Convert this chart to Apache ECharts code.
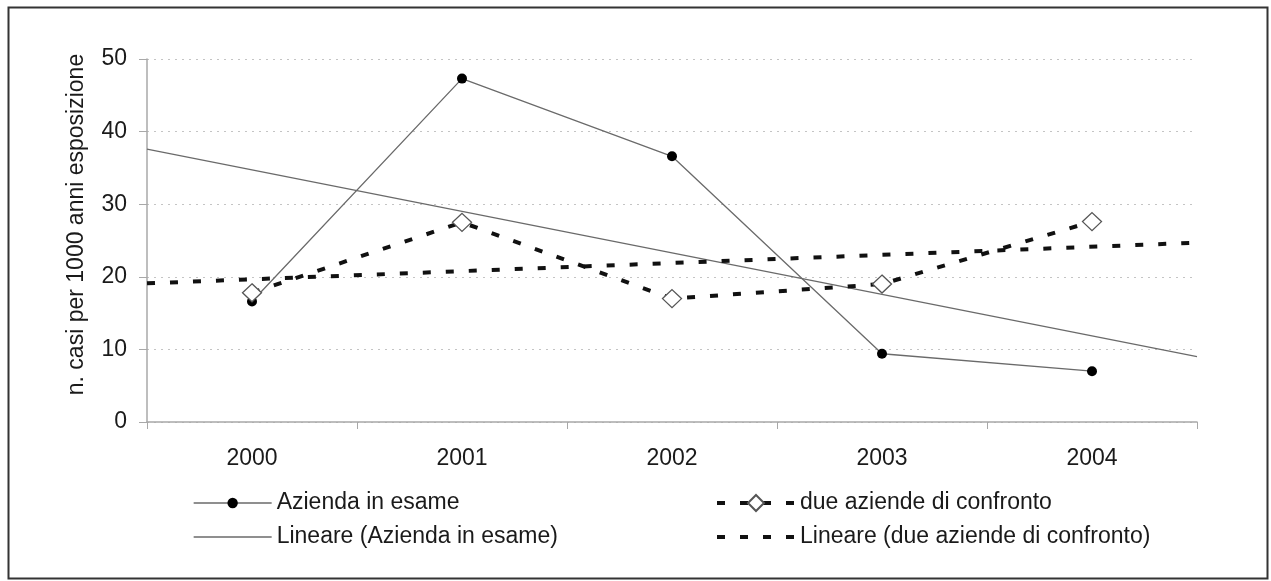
<!DOCTYPE html>
<html>
<head>
<meta charset="utf-8">
<script src="https://cdn.jsdelivr.net/npm/echarts@6/dist/echarts.min.js"></script>
<style>
  html, body { margin: 0; padding: 0; background: #fff; }
  #chart { width: 1271px; height: 581px; }
</style>
</head>
<body>
<div id="chart"></div>
<script>
// ---- data ----
const years = ['2000', '2001', '2002', '2003', '2004'];
const aziendaInEsame = [16.6, 47.3, 36.6, 9.4, 7.0];
const dueAziende = [17.8, 27.5, 17.0, 19.0, 27.6];
// trend lines (read at the left and right edges of the plot)
const trendX = [0.5, 5.5];
const trendAzienda = [37.6, 9.0];
const trendDue = [19.1, 24.7];
const yTicks = [0, 10, 20, 30, 40, 50];

const names = {
  az: 'Azienda in esame',
  due: 'due aziende di confronto',
  linAz: 'Lineare (Azienda in esame)',
  linDue: 'Lineare (due aziende di confronto)'
};
const yTitle = 'n. casi per 1000 anni esposizione';

const FONT = 'Liberation Sans, Arial, sans-serif';
const FS = 23;
const TXT = '#1a1a1a';
const LINEGRAY = '#6a6a6a';
const DASH = [8, 15];

const chart = echarts.init(document.getElementById('chart'));

function legendAt(name, left, centerY, itemHeight, lineWidth, hideSymbol) {
  const l = {
    data: [name],
    left: left,
    top: centerY - 13,
    padding: 0,
    itemWidth: 78,
    itemHeight: itemHeight,
    selectedMode: false,
    lineStyle: { width: lineWidth },
    textStyle: { fontFamily: FONT, fontSize: FS, color: TXT, lineHeight: 26 }
  };
  if (hideSymbol) l.itemStyle = { opacity: 0 };
  return l;
}

chart.setOption({
  animation: false,
  backgroundColor: '#fff',
  graphic: [{
    type: 'rect',
    left: 6, top: 5,
    shape: { width: 1259, height: 571 },
    style: { fill: 'none', stroke: '#333', lineWidth: 2 },
    silent: true
  }],
  grid: { left: 147, right: 74, top: 59, bottom: 159 },
  legend: [
    legendAt(names.az, 193, 503, 13, 1.3, false),
    legendAt(names.linAz, 193, 537, 13, 1.3, true),
    legendAt(names.due, 715, 503, 20, 4, false),
    legendAt(names.linDue, 715, 537, 13, 4, true)
  ],
  xAxis: [{
    type: 'category',
    data: years,
    boundaryGap: true,
    axisLine: { lineStyle: { color: '#a8a8a8', width: 1.5 } },
    axisTick: { show: true, length: 7, inside: false, lineStyle: { color: '#a8a8a8' } },
    axisLabel: { fontFamily: FONT, fontSize: FS, color: TXT, margin: 25 },
    splitLine: { show: false }
  }, {
    type: 'value',
    min: trendX[0], max: trendX[1],
    show: false
  }],
  yAxis: {
    type: 'value',
    min: yTicks[0], max: yTicks[yTicks.length - 1], interval: 10,
    name: yTitle,
    nameLocation: 'middle',
    nameGap: 59,
    nameTextStyle: { fontFamily: FONT, fontSize: FS, color: TXT, padding: [0, 0, 0, 32] },
    axisLine: { show: true, lineStyle: { color: '#a8a8a8', width: 1.5 } },
    axisTick: { show: true, length: 8, lineStyle: { color: '#a8a8a8' } },
    axisLabel: { fontFamily: FONT, fontSize: FS, color: TXT, margin: 20 },
    splitLine: { show: true, lineStyle: { color: '#c4c4c4', width: 1.2, type: [2, 5] } }
  },
  series: [{
    name: names.az,
    type: 'line',
    data: aziendaInEsame,
    symbol: 'circle',
    symbolSize: 10,
    lineStyle: { color: LINEGRAY, width: 1.3 },
    itemStyle: { color: '#000' },
    z: 3
  }, {
    name: names.linAz,
    type: 'line',
    xAxisIndex: 1,
    data: trendX.map((x, i) => [x, trendAzienda[i]]),
    symbol: 'none',
    lineStyle: { color: LINEGRAY, width: 1.3 },
    itemStyle: { color: LINEGRAY },
    z: 2
  }, {
    name: names.linDue,
    type: 'line',
    xAxisIndex: 1,
    data: trendX.map((x, i) => [x, trendDue[i]]),
    symbol: 'none',
    lineStyle: { color: '#111', width: 4, type: DASH, cap: 'butt' },
    itemStyle: { color: '#111' },
    z: 2
  }, {
    name: names.due,
    type: 'line',
    data: dueAziende,
    symbol: 'diamond',
    symbolSize: [19, 18],
    lineStyle: { color: '#111', width: 4, type: DASH, cap: 'butt' },
    itemStyle: { color: '#fff', borderColor: '#555', borderWidth: 1.3 },
    z: 4
  }]
});
</script>
</body>
</html>
